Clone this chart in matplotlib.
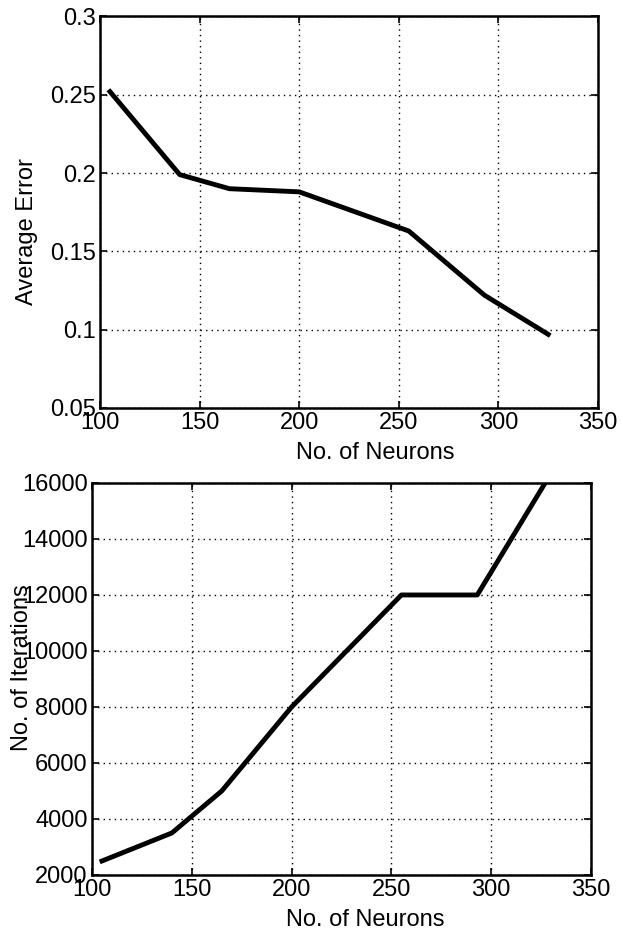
import numpy as np
import matplotlib.pyplot as plt

plt.rcParams['font.family'] = ['Liberation Sans', 'DejaVu Sans']

# average error vs number of neurons
neurons_err = [105, 140, 165, 200, 255, 293, 325]
avg_error = [0.252, 0.199, 0.190, 0.188, 0.163, 0.122, 0.097]

# iterations vs number of neurons
neurons_it = [105, 140, 165, 200, 255, 293, 327]
iterations = [2500, 3500, 5000, 8000, 12000, 12000, 16000]

x_ticks = [100, 150, 200, 250, 300, 350]
err_ticks = [0.05, 0.1, 0.15, 0.2, 0.25, 0.3]
err_labels = ['0.05', '0.1', '0.15', '0.2', '0.25', '0.3']
it_ticks = [2000, 4000, 6000, 8000, 10000, 12000, 14000, 16000]

fig = plt.figure(figsize=(6.23, 9.34), dpi=100)
ax1 = fig.add_axes([0.1605, 0.5632, 0.7994, 0.4192])
ax2 = fig.add_axes([0.1477, 0.0632, 0.801, 0.4197])

fs = 17

def style(ax):
    ax.grid(True, color='k', linestyle=(0, (1, 3)), linewidth=1.0)
    ax.set_axisbelow(True)
    for s in ax.spines.values():
        s.set_linewidth(1.8)
    ax.tick_params(direction='in', length=5, width=1.2, top=True, right=True,
                   labelsize=fs, pad=3)

ax1.plot(neurons_err, avg_error, color='k', linewidth=3.5)
ax1.set_xlim(100, 350)
ax1.set_ylim(0.05, 0.3)
ax1.set_xticks(x_ticks)
ax1.set_yticks(err_ticks)
ax1.set_yticklabels(err_labels)
ax1.set_xlabel('No. of Neurons', fontsize=fs)
ax1.set_ylabel('Average Error', fontsize=fs)
ax1.xaxis.set_label_coords(0.552, -0.088)
ax1.yaxis.set_label_coords(-0.125, 0.45)
style(ax1)

ax2.plot(neurons_it, iterations, color='k', linewidth=3.5)
ax2.set_xlim(100, 350)
ax2.set_ylim(2000, 16000)
ax2.set_xticks(x_ticks)
ax2.set_yticks(it_ticks)
ax2.set_xlabel('No. of Neurons', fontsize=fs)
ax2.set_ylabel('No. of Iterations', fontsize=fs)
ax2.xaxis.set_label_coords(0.547, -0.087)
ax2.yaxis.set_label_coords(-0.118, 0.528)
style(ax2)

fig.savefig('out.png', dpi=100)
